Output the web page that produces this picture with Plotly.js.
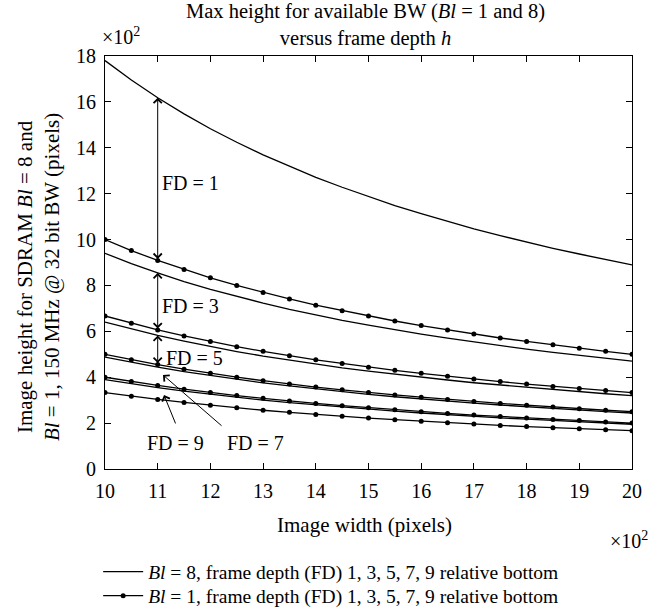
<!DOCTYPE html>
<html>
<head>
<meta charset="utf-8">
<script src="https://cdn.plot.ly/plotly-3.0.1.min.js"></script>
<style>html,body{margin:0;padding:0;background:#fff;}#chart{width:659px;height:609px;}</style>
</head>
<body>
<div id="chart"></div>
<script>
// Image width (×10^2 pixels)
const imageWidth = [10, 10.5, 11, 11.5, 12, 12.5, 13, 13.5, 14, 14.5, 15, 15.5, 16, 16.5, 17, 17.5, 18, 18.5, 19, 19.5, 20];

// Bl = 8 (plain lines), image height ×10^2
const bl8_fd1 = [17.8, 16.95, 16.18, 15.48, 14.83, 14.24, 13.69, 13.19, 12.71, 12.28, 11.87, 11.48, 11.13, 10.79, 10.47, 10.17, 9.89, 9.62, 9.37, 9.13, 8.9];
const bl8_fd3 = [9.4, 8.95, 8.55, 8.17, 7.83, 7.52, 7.23, 6.96, 6.71, 6.48, 6.27, 6.06, 5.88, 5.70, 5.53, 5.37, 5.22, 5.08, 4.95, 4.82, 4.70];
const bl8_fd5 = [6.4, 6.10, 5.82, 5.57, 5.33, 5.12, 4.92, 4.74, 4.57, 4.41, 4.27, 4.13, 4.0, 3.88, 3.76, 3.66, 3.56, 3.46, 3.37, 3.28, 3.2];
const bl8_fd7 = [4.88, 4.65, 4.44, 4.24, 4.07, 3.90, 3.75, 3.62, 3.49, 3.37, 3.25, 3.15, 3.05, 2.96, 2.87, 2.79, 2.71, 2.64, 2.57, 2.50, 2.44];
const bl8_fd9 = [3.9, 3.71, 3.55, 3.39, 3.25, 3.12, 3.0, 2.89, 2.79, 2.69, 2.6, 2.52, 2.44, 2.36, 2.29, 2.23, 2.17, 2.11, 2.05, 2.0, 1.95];

// Bl = 1 (lines with dots)
const bl1_fd1 = [10, 9.52, 9.09, 8.70, 8.33, 8.0, 7.69, 7.41, 7.14, 6.90, 6.67, 6.45, 6.25, 6.06, 5.88, 5.71, 5.56, 5.41, 5.26, 5.13, 5.0];
const bl1_fd3 = [6.67, 6.35, 6.06, 5.80, 5.56, 5.33, 5.13, 4.94, 4.76, 4.60, 4.44, 4.30, 4.17, 4.04, 3.92, 3.81, 3.70, 3.60, 3.51, 3.42, 3.33];
const bl1_fd5 = [5.0, 4.76, 4.55, 4.35, 4.17, 4.0, 3.85, 3.70, 3.57, 3.45, 3.33, 3.23, 3.13, 3.03, 2.94, 2.86, 2.78, 2.70, 2.63, 2.56, 2.5];
const bl1_fd7 = [4.0, 3.81, 3.64, 3.48, 3.33, 3.2, 3.08, 2.96, 2.86, 2.76, 2.67, 2.58, 2.5, 2.42, 2.35, 2.29, 2.22, 2.16, 2.11, 2.05, 2.0];
const bl1_fd9 = [3.33, 3.17, 3.03, 2.90, 2.78, 2.67, 2.56, 2.47, 2.38, 2.30, 2.22, 2.15, 2.08, 2.02, 1.96, 1.90, 1.85, 1.80, 1.75, 1.71, 1.67];

const xTicks = [10, 11, 12, 13, 14, 15, 16, 17, 18, 19, 20];
const yTicks = [0, 2, 4, 6, 8, 10, 12, 14, 16, 18];

const chartTitle = 'Max height for available BW (<i>Bl</i> = 1 and 8)<br>versus frame depth <i>h</i>';
const xTitle = 'Image width (pixels)';
const yTitle = 'Image height for SDRAM <i>Bl</i> = 8 and<br><i>Bl</i> = 1, 150 MHz @ 32 bit BW (pixels)';
const legendBl8 = "<i>Bl</i> = 8, frame depth (FD) 1, 3, 5, 7, 9 relative bottom";
const legendBl1 = "<i>Bl</i> = 1, frame depth (FD) 1, 3, 5, 7, 9 relative bottom";

const FONT = "Liberation Serif, Times New Roman, serif";
const bl8 = [bl8_fd1, bl8_fd3, bl8_fd5, bl8_fd7, bl8_fd9];
const bl1 = [bl1_fd1, bl1_fd3, bl1_fd5, bl1_fd7, bl1_fd9];

const traces = [];
bl8.forEach((ys, i) => traces.push({
  x: imageWidth, y: ys, type: 'scatter', mode: 'lines',
  line: {color: '#000', width: 1.3},
  name: legendBl8, showlegend: i === 0, legend: 'legend'
}));
bl1.forEach((ys, i) => traces.push({
  x: imageWidth, y: ys, type: 'scatter', mode: 'lines+markers',
  line: {color: '#000', width: 1.3},
  marker: {color: '#000', size: 5},
  name: legendBl1, showlegend: i === 0, legend: 'legend2'
}));

const arrowBase = {xref: 'x', yref: 'y', axref: 'x', ayref: 'y', text: '', showarrow: true,
  arrowhead: 4, arrowsize: 1.6, arrowwidth: 1, arrowcolor: '#000'};
const textBase = {xref: 'x', yref: 'y', showarrow: false, font: {family: FONT, size: 20, color: '#000'}};

const annotations = [
  // FD = 1 double arrow
  Object.assign({}, arrowBase, {x: 11, y: bl8_fd1[2], ax: 11, ay: bl1_fd1[2], arrowside: 'end+start'}),
  Object.assign({}, textBase, {x: 11.04, y: 12.45, text: 'FD = 1', xanchor: 'left'}),
  // FD = 3
  Object.assign({}, arrowBase, {x: 11, y: bl8_fd3[2], ax: 11, ay: bl1_fd3[2], arrowside: 'end+start'}),
  Object.assign({}, textBase, {x: 11.04, y: 7.1, text: 'FD = 3', xanchor: 'left'}),
  // FD = 5
  Object.assign({}, arrowBase, {x: 11, y: bl8_fd5[2], ax: 11, ay: bl1_fd5[2], arrowside: 'end+start'}),
  Object.assign({}, textBase, {x: 11.12, y: 4.85, text: 'FD = 5', xanchor: 'left'}),
  // FD = 7
  Object.assign({}, arrowBase, {x: 11.1, y: 4.1, ax: 12.24, ay: 1.83}),
  Object.assign({}, textBase, {x: 12.85, y: 1.13, text: 'FD = 7'}),
  // FD = 9
  Object.assign({}, arrowBase, {x: 11.12, y: 3.22, ax: 11.35, ay: 1.92}),
  Object.assign({}, textBase, {x: 11.33, y: 1.13, text: 'FD = 9'}),
  // chart title
  {xref: 'paper', yref: 'paper', x: 0.495, y: 1.075, xanchor: 'center', yanchor: 'middle', showarrow: false,
   text: chartTitle, font: {family: FONT, size: 20.5, color: '#000'}},
  // axis titles
  {xref: 'paper', yref: 'paper', x: 0.493, y: -0.1356, xanchor: 'center', yanchor: 'middle', showarrow: false,
   text: xTitle, font: {family: FONT, size: 21, color: '#000'}},
  {xref: 'paper', yref: 'paper', x: -0.125, y: 0.465, xanchor: 'center', yanchor: 'middle', showarrow: false,
   textangle: -90, text: yTitle, font: {family: FONT, size: 21, color: '#000'}},
  // exponent labels
  {xref: 'paper', yref: 'paper', x: -0.0095, y: 1.048, xanchor: 'left', yanchor: 'middle', showarrow: false,
   text: '×10<sup>2</sup>', font: {family: FONT, size: 20, color: '#000'}},
  {xref: 'paper', yref: 'paper', x: 1.034, y: -0.172, xanchor: 'right', yanchor: 'middle', showarrow: false,
   text: '×10<sup>2</sup>', font: {family: FONT, size: 20, color: '#000'}}
];

const axisCommon = {
  showgrid: false, zeroline: false, showline: true, linecolor: '#000', linewidth: 1,
  mirror: 'allticks', ticks: 'inside', ticklen: 6, tickcolor: '#000', tickwidth: 1,
  tickfont: {family: FONT, size: 20, color: '#000'}, automargin: false
};

const legendCommon = {x: -0.013, xanchor: 'left', yanchor: 'middle', orientation: 'v',
  font: {family: FONT, size: 19.5, color: '#000'}, bgcolor: 'rgba(0,0,0,0)',
  tracegroupgap: 0, itemwidth: 40};

const layout = {
  width: 659, height: 609,
  margin: {l: 105, r: 27, t: 56, b: 140, autoexpand: false},
  paper_bgcolor: '#fff', plot_bgcolor: '#fff',
  font: {family: FONT, size: 18, color: '#000'},
  xaxis: Object.assign({}, axisCommon, {range: [10, 20], tickvals: xTicks, ticklabelstandoff: 4}),
  yaxis: Object.assign({}, axisCommon, {range: [0, 18], tickvals: yTicks, ticklabelstandoff: 4}),
  showlegend: true,
  legend: Object.assign({}, legendCommon, {y: -0.2494}),
  legend2: Object.assign({}, legendCommon, {y: -0.3075}),
  annotations: annotations
};

Plotly.newPlot('chart', traces, layout, {displayModeBar: false, staticPlot: true});
</script>
</body>
</html>
